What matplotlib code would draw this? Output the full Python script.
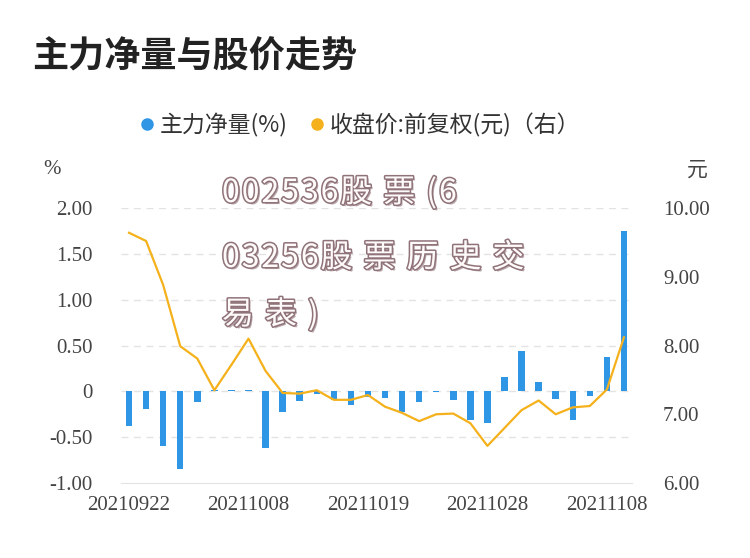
import matplotlib
matplotlib.use('Agg')
import matplotlib.pyplot as plt
import matplotlib.patheffects as pe
from matplotlib.lines import Line2D
import numpy as np

plt.rcParams['font.family'] = ['Noto Sans CJK SC', 'DejaVu Sans']

# data
dates = ['20210922', '20210923', '20210924', '20210927', '20210928', '20210929', '20210930',
         '20211008', '20211011', '20211012', '20211013', '20211014', '20211015', '20211018',
         '20211019', '20211020', '20211021', '20211022', '20211025', '20211026', '20211027',
         '20211028', '20211029', '20211101', '20211102', '20211103', '20211104', '20211105',
         '20211108', '20211109']
net_flow = [-0.38, -0.19, -0.60, -0.85, -0.12, 0.01, 0.02, 0.01, -0.62, -0.23,
            -0.10, -0.03, -0.09, -0.15, -0.06, -0.07, -0.22, -0.12, -0.01, -0.09,
            -0.31, -0.35, 0.16, 0.44, 0.10, -0.08, -0.31, -0.05, 0.38, 1.75]
close_price = [9.64, 9.52, 8.88, 7.99, 7.81, 7.35, 7.72, 8.10, 7.63, 7.31,
               7.30, 7.35, 7.21, 7.21, 7.28, 7.11, 7.02, 6.90, 7.00, 7.01,
               6.87, 6.54, 6.80, 7.06, 7.20, 7.00, 7.10, 7.12, 7.36, 8.12]
left_ticks = [-1.0, -0.5, 0, 0.5, 1.0, 1.5, 2.0]
left_labels = ['-1.00', '-0.50', '0', '0.50', '1.00', '1.50', '2.00']
right_ticks = [6, 7, 8, 9, 10]
right_labels = ['6.00', '7.00', '8.00', '9.00', '10.00']

blue = '#2f96e6'
orange = '#f5b11b'
tick_color = '#444444'
serif = 'Liberation Serif'

fig = plt.figure(figsize=(7.5, 5.58), dpi=100)
ax = fig.add_axes([0.1607, 0.1344, 0.6826, 0.4928])
ax2 = ax.twinx()

x = np.arange(len(dates))
ax.bar(x, net_flow, width=0.38, color=blue, zorder=2)
ax.set_xlim(-0.5, len(dates) - 0.5)
ax.set_ylim(-1.0, 2.0)
ax.set_yticks(left_ticks)
ax.set_yticklabels(left_labels, fontfamily=serif, fontsize=15, color=tick_color)
ax.set_xticks(x[::7])
ax.set_xticklabels(dates[::7], fontfamily=serif, fontsize=15, color=tick_color)
ax.tick_params(axis='y', length=0, pad=20)
ax.tick_params(axis='x', length=0, pad=9)
for y in left_ticks[1:]:
    ax.axhline(y, color='#e3e3e3', lw=1, dashes=(5, 4), zorder=0)
for s in ['top', 'left', 'right']:
    ax.spines[s].set_visible(False)
ax.spines['bottom'].set_color('#e3e3e3')

ax2.plot(x, close_price, color=orange, lw=1.6, zorder=3)
ax2.set_ylim(6, 10)
ax2.set_yticks(right_ticks)
ax2.set_yticklabels(right_labels, fontfamily=serif, fontsize=15, color=tick_color)
ax2.tick_params(axis='y', length=0, pad=22)
for s in ['top', 'left', 'right', 'bottom']:
    ax2.spines[s].set_visible(False)

# title and unit labels
fig.text(32 / 750, 1 - 57 / 558, '主力净量与股价走势', fontsize=26, fontweight='bold',
         color='#222222', va='center', ha='left')
fig.text(52 / 750, 1 - 170 / 558, '%', fontfamily=serif, fontsize=15, color=tick_color,
         ha='center', va='center')
fig.text(697 / 750, 1 - 170 / 558, '元', fontsize=15, color=tick_color,
         ha='center', va='center')

# legend
handles = [Line2D([], [], marker='o', ls='none', color=blue, markersize=8),
           Line2D([], [], marker='o', ls='none', color=orange, markersize=8)]
fig.legend(handles, ['主力净量(%)', '收盘价:前复权(元)（右）'], loc='center',
           bbox_to_anchor=(360 / 750, 1 - 125 / 558), ncol=2, frameon=False,
           fontsize=16.5, handlelength=0.6, handletextpad=0.25, columnspacing=1.0,
           labelcolor='#333333')

# watermark text
wm_lines = ['002536股票(6', '03256股票历史交', '易表)']
wm_y = [193, 258, 315]
wm_edge = '#8f7379'
effects = [pe.SimplePatchShadow(offset=(1.5, -1.5), shadow_rgbFace=wm_edge, alpha=0.6),
           pe.Stroke(linewidth=2.2, foreground=wm_edge), pe.Normal()]
renderer = fig.canvas.get_renderer()
for line, yy in zip(wm_lines, wm_y):
    xp = 222
    for ch in line:
        t = fig.text(xp / 750, 1 - yy / 558, ch, fontsize=23, fontweight='medium',
                     color='#fffafa', ha='left', va='center', zorder=10,
                     path_effects=effects)
        w = t.get_window_extent(renderer).width
        xp += w + (11 if ord(ch) > 255 else 2)

fig.savefig('out.png', dpi=100)
